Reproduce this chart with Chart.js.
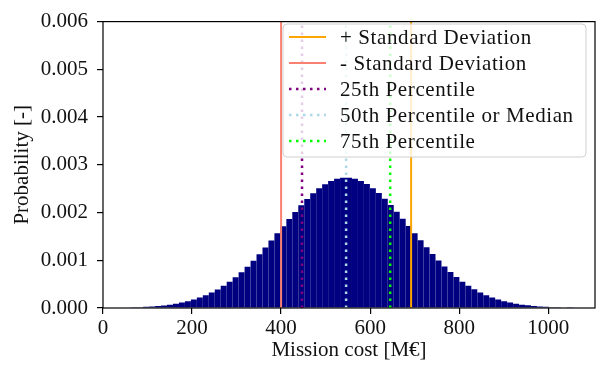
<!DOCTYPE html>
<html>
<head>
    <title>Mission cost distribution</title>
    <script src="https://cdn.jsdelivr.net/npm/chart.js"></script>
    <style>
        body { margin: 0; background: #ffffff; }
    </style>
</head>
<body>
    <canvas id="costChart" width="596" height="365"></canvas>

    <script>
        // histogram bins (M€) and the probability
        const binStart = 50;
        const binWidth = 13.4;
        const probability = [
            0.000010, 0.000014, 0.000018, 0.000024, 0.000032, 0.000042, 0.000054, 0.000070, 0.000089, 0.000113,
            0.000142, 0.000176, 0.000218, 0.000266, 0.000323, 0.000389, 0.000464, 0.000550, 0.000645, 0.000751,
            0.000866, 0.000992, 0.001126, 0.001267, 0.001413, 0.001564, 0.001715, 0.001867, 0.002013, 0.002154,
            0.002285, 0.002405, 0.002508, 0.002594, 0.002661, 0.002707, 0.002730, 0.002730, 0.002708, 0.002663,
            0.002597, 0.002511, 0.002408, 0.002289, 0.002159, 0.002018, 0.001871, 0.001720, 0.001568, 0.001418,
            0.001271, 0.001130, 0.000996, 0.000870, 0.000754, 0.000648, 0.000552, 0.000467, 0.000391, 0.000325,
            0.000268, 0.000219, 0.000177, 0.000142, 0.000113, 0.000090, 0.000070, 0.000055, 0.000042, 0.000032,
            0.000024, 0.000018, 0.000014, 0.000010, 0.000007
        ];
        const binCenters = probability.map((_, i) => binStart + binWidth * (i + 0.5));

        // vertical marker lines
        const markerLabels = ['+ Standard Deviation', '- Standard Deviation', '25th Percentile', '50th Percentile or Median', '75th Percentile'];
        const markerValues = [692, 400, 447, 546, 645];
        const markerColors = ['#ffa500', '#fa8072', '#800080', '#add8e6', '#00ff00'];
        const markerDotted = [false, false, true, true, true];

        // axis ticks
        const xTickValues = [0, 200, 400, 600, 800, 1000];
        const yTickValues = [0, 0.001, 0.002, 0.003, 0.004, 0.005, 0.006];
        const xRange = [0, 1105];

        const serif = "'Liberation Serif', 'DejaVu Serif', serif";

        const markerSets = markerLabels.map((label, i) => ({
            type: 'line',
            label: label,
            data: [{ x: markerValues[i], y: yTickValues[0] }, { x: markerValues[i], y: yTickValues[yTickValues.length - 1] }],
            borderColor: markerColors[i],
            borderWidth: markerDotted[i] ? 2.5 : 2,
            borderDash: markerDotted[i] ? [2.5, 4.5] : [],
            pointRadius: 0,
            fill: false
        }));

        // frame round the plot, like matplotlib spines
        const frame = {
            id: 'frame',
            afterDatasetsDraw(chart) {
                const { ctx, chartArea: a } = chart;
                ctx.save();
                ctx.strokeStyle = '#000';
                ctx.lineWidth = 1.2;
                ctx.strokeRect(a.left, a.top, a.right - a.left, a.bottom - a.top);
                ctx.restore();
            }
        };

        // legend box drawn inside the plot, upper right
        const insideLegend = {
            id: 'insideLegend',
            afterDraw(chart) {
                const ctx = chart.ctx;
                const x0 = 283, y0 = 24, w = 303, h = 133;
                ctx.save();
                ctx.beginPath();
                ctx.roundRect(x0, y0, w, h, 4);
                ctx.fillStyle = 'rgba(255,255,255,0.8)';
                ctx.fill();
                ctx.strokeStyle = '#d0d0d0';
                ctx.lineWidth = 1;
                ctx.stroke();

                ctx.font = '21px ' + serif;
                ctx.textBaseline = 'middle';
                ctx.letterSpacing = '0.6px';
                markerSets.forEach((ds, i) => {
                    const y = 37 + i * 26;
                    ctx.beginPath();
                    ctx.setLineDash(ds.borderDash);
                    ctx.strokeStyle = ds.borderColor;
                    ctx.lineWidth = ds.borderWidth;
                    ctx.moveTo(289, y);
                    ctx.lineTo(326, y);
                    ctx.stroke();
                    ctx.setLineDash([]);
                    ctx.fillStyle = '#111';
                    ctx.fillText(ds.label, 340, y + 1);
                });
                ctx.restore();
            }
        };

        const ctx = document.getElementById('costChart').getContext('2d');
        new Chart(ctx, {
            type: 'bar',
            data: {
                datasets: [
                    ...markerSets,
                    {
                        type: 'bar',
                        label: 'Histogram',
                        data: binCenters.map((c, i) => ({ x: c, y: probability[i] })),
                        backgroundColor: '#000080',
                        borderWidth: 0,
                        inflateAmount: 0,
                        barPercentage: 1,
                        categoryPercentage: 1
                    }
                ]
            },
            options: {
                responsive: false,
                animation: false,
                devicePixelRatio: 1,
                layout: { padding: { top: 15, right: 1, left: 0, bottom: 0 } },
                plugins: {
                    legend: { display: false },
                    tooltip: { enabled: false }
                },
                scales: {
                    x: {
                        type: 'linear',
                        min: xRange[0],
                        max: xRange[1],
                        offset: false,
                        afterBuildTicks: s => { s.ticks = xTickValues.map(v => ({ value: v })); },
                        afterFit: s => { s.height = 57; },
                        grid: { offset: false, drawOnChartArea: false, drawTicks: true, tickLength: 6, color: '#000', lineWidth: 1.2 },
                        border: { display: false },
                        ticks: { color: '#111', font: { family: serif, size: 21 }, padding: 2, maxRotation: 0, callback: v => String(v) },
                        title: { display: true, text: 'Mission cost [M€]', color: '#111', font: { family: serif, size: 21 }, padding: { top: 0, bottom: 2 } }
                    },
                    y: {
                        min: yTickValues[0],
                        max: yTickValues[yTickValues.length - 1],
                        afterBuildTicks: s => { s.ticks = yTickValues.map(v => ({ value: v })); },
                        afterFit: s => { s.width = 103; },
                        grid: { drawOnChartArea: false, drawTicks: true, tickLength: 6, color: '#000', lineWidth: 1.2 },
                        border: { display: false },
                        ticks: {
                            color: '#111',
                            font: { family: serif, size: 21 },
                            padding: 9,
                            callback: v => v.toFixed(3)
                        },
                        title: { display: true, text: 'Probability [-]', color: '#111', font: { family: serif, size: 21 }, padding: { top: 10, bottom: 0 } }
                    }
                }
            },
            plugins: [frame, insideLegend]
        });
    </script>
</body>
</html>
